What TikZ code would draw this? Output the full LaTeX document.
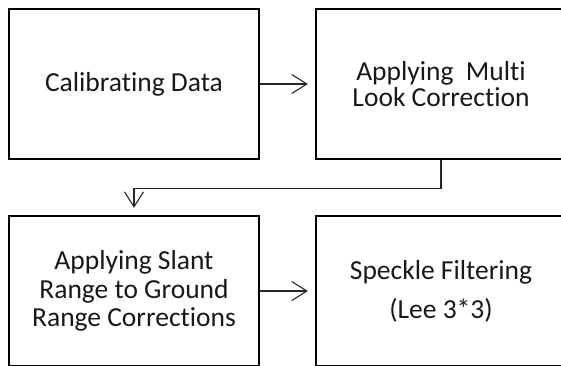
\documentclass[tikz,border=0pt]{standalone}
\usepackage{fontspec}
\setmainfont[Ligatures={NoCommon}]{Carlito}
\usetikzlibrary{arrows.meta}
\begin{document}
\begin{tikzpicture}[x=1pt,y=-1pt,
  box/.style={draw=black, line width=2.3pt, rectangle, inner sep=0pt,
    minimum width=250pt, minimum height=150pt, align=center, text=black!90},
  conn/.style={draw=black!85, line width=1.1pt,
    -{Straight Barb[length=15pt,width=19pt,line width=1.1pt]}, shorten >=7pt}]
\path[use as bounding box, clip] (0,0) rectangle (561,365);
\fill[white] (0,0) rectangle (561,365);
\node[box, font=\fontsize{27.5pt}{26pt}\selectfont] (b1) at (134,84) {Calibrating Data};
\node[box, font=\fontsize{27.5pt}{26pt}\selectfont] (b2) at (441,84) {Applying\ \ Multi\\Look Correction};
\node[box, font=\fontsize{27.5pt}{28.5pt}\selectfont] (b3) at (134,291) {Applying Slant\\Range to Ground\\Range Corrections};
\node[box, font=\fontsize{27.5pt}{39pt}\selectfont] (b4) at (441,291) {Speckle Filtering\\(Lee 3*3)};
\draw[conn] (b1.east) -- (b2.west);
\draw[conn] (b3.east) -- (b4.west);
\draw[conn] (b2.south) -- ++(0,28) -| (b3.north);
\end{tikzpicture}
\end{document}
